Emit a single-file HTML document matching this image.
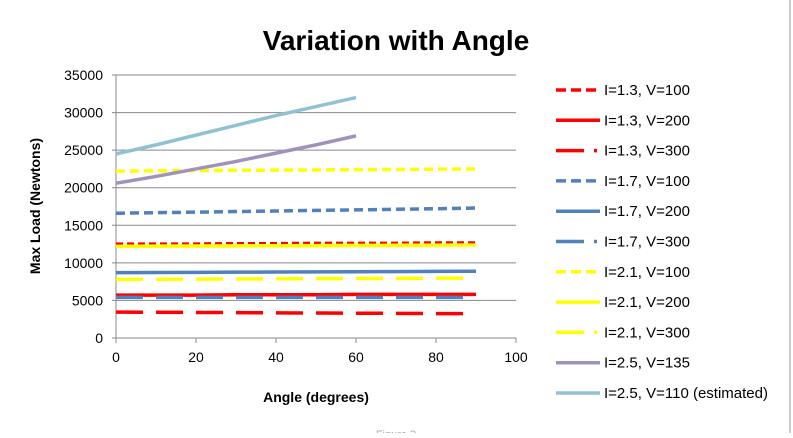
<!DOCTYPE html>
<html><head><meta charset="utf-8"><style>
body{margin:0;background:#fff;width:793px;height:433px;overflow:hidden;font-family:"Liberation Sans",sans-serif}
svg text{font-family:"Liberation Sans",sans-serif}
</style></head><body>
<svg id="chart" width="793" height="433">
<line x1="790" y1="0" x2="790" y2="433" stroke="#999"/>
<text x="396" y="50" text-anchor="middle" font-size="28" font-weight="bold">Variation with Angle</text>
<text transform="translate(40,206) rotate(-90)" text-anchor="middle" font-size="14" font-weight="bold">Max Load (Newtons)</text>
<text x="316" y="402" text-anchor="middle" font-size="14" font-weight="bold">Angle (degrees)</text>
<text x="396" y="438" text-anchor="middle" font-size="11" fill="#aaa">Figure 3</text>
<g id="grid"></g><g id="series"></g><g id="legend"></g>
</svg>
<script>
const xTicks=[0,20,40,60,80,100];
const yTicks=[0,5000,10000,15000,20000,25000,30000,35000];
const angles=[0,10,20,30,40,50,60,70,80,90];
const anglesShort=[0,10,20,30,40,50,60];
const names=["I=1.3, V=100","I=1.3, V=200","I=1.3, V=300","I=1.7, V=100","I=1.7, V=200","I=1.7, V=300","I=2.1, V=100","I=2.1, V=200","I=2.1, V=300","I=2.5, V=135","I=2.5, V=110 (estimated)"];
const s13_100=[12500,12500,12500,12550,12550,12600,12600,12600,12650,12650];
const s13_200=[5700,5700,5700,5750,5750,5750,5800,5800,5800,5800];
const s13_300=[3450,3420,3400,3380,3350,3320,3300,3280,3250,3230];
const s17_100=[16600,16680,16750,16830,16900,16980,17050,17130,17200,17300];
const s17_200=[8700,8720,8740,8760,8780,8800,8820,8840,8860,8880];
const s17_300=[5400,5400,5400,5400,5400,5400,5400,5400,5400,5400];
const s21_100=[22200,22250,22280,22310,22340,22370,22400,22430,22470,22500];
const s21_200=[12200,12220,12240,12260,12280,12300,12320,12340,12360,12380];
const s21_300=[7800,7820,7840,7860,7880,7900,7920,7940,7960,7980];
const s25_135=[20600,21500,22500,23500,24600,25700,26900];
const s25_110=[24500,25700,27000,28300,29600,30800,32000];
const X=v=>116+v*4, Y=v=>338-v*(263/35000);
const NS="http://www.w3.org/2000/svg";
function mk(t,a,p){const e=document.createElementNS(NS,t);for(const k in a)e.setAttribute(k,a[k]);p.appendChild(e);return e;}
const grid=document.getElementById('grid');
yTicks.forEach(v=>{
 const l=mk('line',{x1:112,x2:516,y1:Y(v),y2:Y(v),stroke:'#888','stroke-width':1},grid);
 
 
 const t=mk('text',{x:103,y:Y(v)+5,'text-anchor':'end','font-size':14},grid);t.textContent=v;
 
 
});
const ya=mk('line',{x1:116,x2:116,y1:Y(35000),y2:Y(0),stroke:'#888'},grid);


xTicks.forEach(v=>{
 const l=mk('line',{x1:X(v),x2:X(v),y1:338,y2:343,stroke:'#888'},grid);
 
 
 const t=mk('text',{x:X(v),y:362,'text-anchor':'middle','font-size':14},grid);t.textContent=v;
 
 
});
const R='#ff0000',B='#4f81bd',Yl='#ffff00',P='#a092bc',C='#8fc3d3';
const SD='7,4',LD='27,13';
const data=[s13_100,s13_200,s13_300,s17_100,s17_200,s17_300,s21_100,s21_200,s21_300,s25_135,s25_110];
const xs=[angles,angles,angles,angles,angles,angles,angles,angles,angles,anglesShort,anglesShort];
const cols=[R,R,R,B,B,B,Yl,Yl,Yl,P,C];
const dashes=[SD,'',LD,'9,5','',LD,'9,5','',LD,'',''];
const ser=document.getElementById('series'),leg=document.getElementById('legend');
data.forEach((d,i)=>{
 const pts=d.map((v,j)=>X(xs[i][j])+','+Y(v)).join(' ');
 const pl=mk('polyline',{points:pts,fill:'none',stroke:cols[i],'stroke-width':3.5,'stroke-dasharray':dashes[i]},ser);
 
 
 const y=90+i*30.3;
 const g=mk('g',{},leg);
 
 
 mk('line',{x1:556,x2:600,y1:y,y2:y,stroke:cols[i],'stroke-width':3.5,'stroke-dasharray':i%3===2&&i<9?'28,10,3,10':(dashes[i]?'10,5':'')},g);
 const t=mk('text',{x:604,y:y+5,'font-size':15},g);t.textContent=names[i];
});
</script>
</body></html>
